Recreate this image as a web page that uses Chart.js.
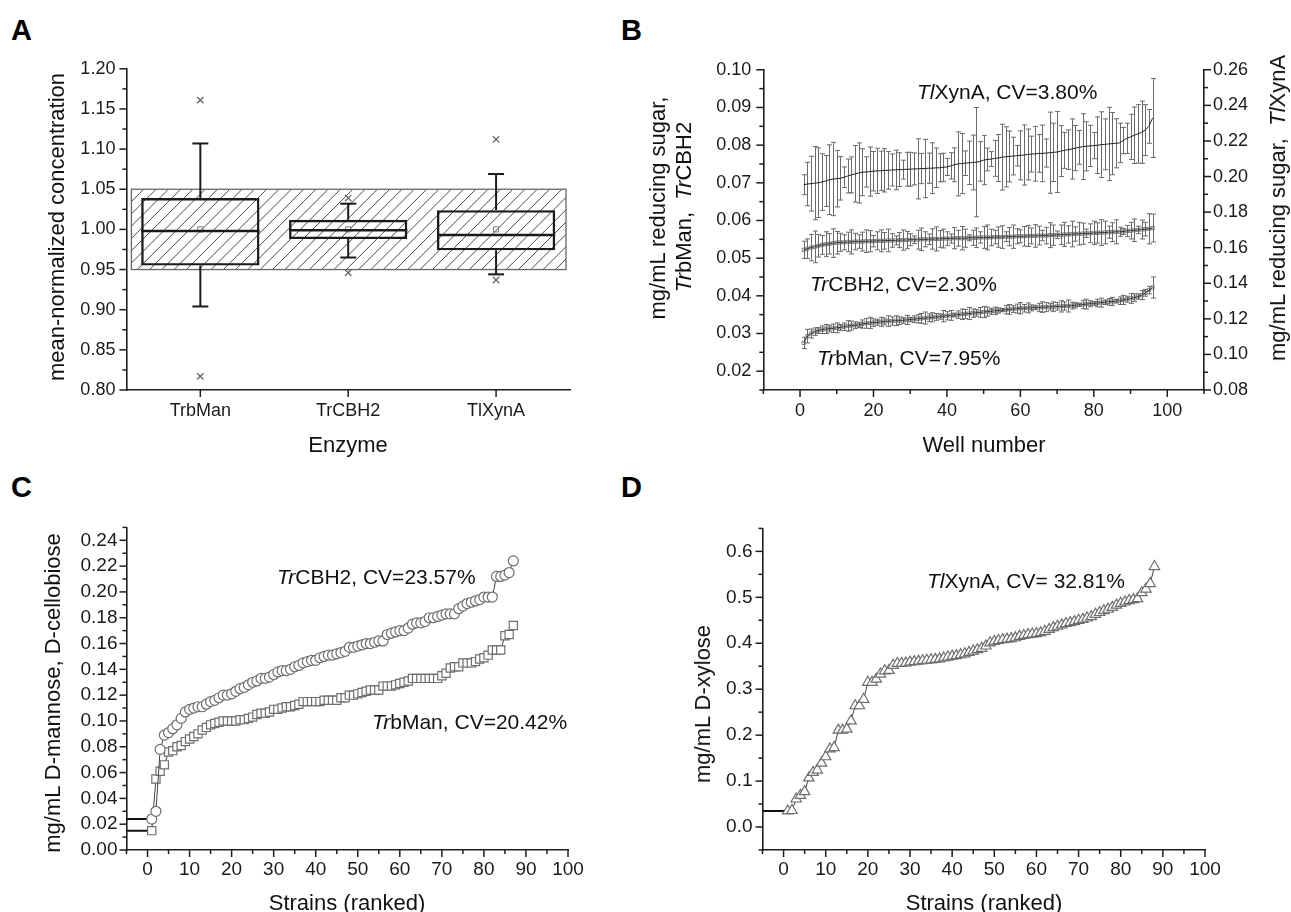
<!DOCTYPE html>
<html><head><meta charset="utf-8">
<script src="https://cdn.jsdelivr.net/npm/chart.js@4.4.1/dist/chart.umd.min.js"></script>
<style>
html,body{margin:0;padding:0;background:#fff;}
#root{position:relative;width:1291px;height:912px;overflow:hidden;background:#fff;font-family:'Liberation Sans',Arial,sans-serif;color:#111;}
canvas{position:absolute;}
.t{position:absolute;white-space:nowrap;line-height:1;}
.c{transform:translate(-50%,-50%);}
.r{transform:translate(-50%,-50%) rotate(-90deg);}
.l{transform:translate(0,-50%);}
.letter{font-weight:bold;font-size:29px;color:#000;}
.ttl{font-size:22px;}
.ann{font-size:21px;}
</style></head><body><div id="root">
<canvas id="cA" width="600" height="388" style="left:0px;top:47px"></canvas>
<canvas id="cB" width="671" height="388" style="left:620px;top:47px"></canvas>
<canvas id="cC" width="600" height="388" style="left:0px;top:507px"></canvas>
<canvas id="cD" width="620" height="388" style="left:620px;top:507px"></canvas>

<div class="t letter" style="left:11px;top:16px">A</div>
<div class="t letter" style="left:621px;top:16px">B</div>
<div class="t letter" style="left:11px;top:473px">C</div>
<div class="t letter" style="left:621px;top:473px">D</div>

<div class="t ttl r" style="left:57px;top:227px">mean-normalized concentration</div>
<div class="t ttl c" style="left:348px;top:445px">Enzyme</div>
<div class="t ttl r" style="left:658px;top:208px">mg/mL reducing sugar,</div>
<div class="t ttl r" style="left:684px;top:207px"><i>Tr</i>bMan,&nbsp; <i>Tr</i>CBH2</div>
<div class="t ttl r" style="left:1278px;top:208px">mg/mL reducing sugar,&nbsp; <i>Tl</i>XynA</div>
<div class="t ttl c" style="left:984px;top:445px">Well number</div>
<div class="t ttl r" style="left:53px;top:693px">mg/mL D-mannose, D-cellobiose</div>
<div class="t ttl c" style="left:347px;top:903px">Strains (ranked)</div>
<div class="t ttl r" style="left:703px;top:704px">mg/mL D-xylose</div>
<div class="t ttl c" style="left:984px;top:903px">Strains (ranked)</div>

<div class="t ann l" style="left:917px;top:91px"><i>Tl</i>XynA, CV=3.80%</div>
<div class="t ann l" style="left:810px;top:283px"><i>Tr</i>CBH2, CV=2.30%</div>
<div class="t ann l" style="left:817px;top:357px"><i>Tr</i>bMan, CV=7.95%</div>
<div class="t ann l" style="left:277px;top:576px"><i>Tr</i>CBH2, CV=23.57%</div>
<div class="t ann l" style="left:372px;top:721px"><i>Tr</i>bMan, CV=20.42%</div>
<div class="t ann l" style="left:927px;top:580px"><i>Tl</i>XynA, CV= 32.81%</div>
</div>
<script>
// ---------------- DATA ----------------
// Panel A (box chart)
const enzymes = ['TrbMan', 'TrCBH2', 'TlXynA'];
const boxQ1 = [0.955, 0.988, 0.974];
const boxQ3 = [1.039, 1.012, 1.024];
const boxMedian = [0.998, 0.999, 0.993];
const whiskerLow = [0.904, 0.965, 0.944];
const whiskerHigh = [1.107, 1.032, 1.069];
const boxMean = [1.000, 1.000, 1.000];
const outlierHigh = [1.161, 1.039, 1.112];
const outlierLow = [0.817, 0.946, 0.937];
const bandRange = [0.95, 1.05];
const aYTicks = [0.80, 0.85, 0.90, 0.95, 1.00, 1.05, 1.10, 1.15, 1.20];
const aYMinor = [0.825, 0.875, 0.925, 0.975, 1.025, 1.075, 1.125, 1.175];

// Panel B (wells, means and SD)
const wells = [1,2,3,4,5,6,7,8,9,10,11,12,13,14,15,16,17,18,19,20,21,22,23,24,25,26,27,28,29,30,31,32,33,34,35,36,37,38,39,40,41,42,43,44,45,46,47,48,49,50,51,52,53,54,55,56,57,58,59,60,61,62,63,64,65,66,67,68,69,70,71,72,73,74,75,76,77,78,79,80,81,82,83,84,85,86,87,88,89,90,91,92,93,94,95,96];
const xynAMean = [0.1954,0.1958,0.1960,0.1963,0.1965,0.1969,0.1975,0.1982,0.1986,0.1988,
  0.1990,0.1996,0.2003,0.2009,0.2015,0.2020,0.2024,0.2026,0.2028,0.2030,
  0.2032,0.2032,0.2035,0.2035,0.2037,0.2037,0.2039,0.2039,0.2041,0.2041,
  0.2043,0.2043,0.2045,0.2045,0.2047,0.2047,0.2049,0.2049,0.2052,0.2054,
  0.2060,0.2066,0.2071,0.2073,0.2075,0.2077,0.2079,0.2081,0.2085,0.2092,
  0.2096,0.2098,0.2102,0.2104,0.2109,0.2111,0.2113,0.2115,0.2117,0.2119,
  0.2121,0.2124,0.2126,0.2128,0.2130,0.2130,0.2132,0.2134,0.2136,0.2138,
  0.2143,0.2147,0.2151,0.2155,0.2160,0.2164,0.2168,0.2170,0.2172,0.2174,
  0.2176,0.2179,0.2181,0.2183,0.2185,0.2187,0.2189,0.2202,0.2215,0.2223,
  0.2232,0.2240,0.2249,0.2261,0.2282,0.2329];
const xynAErr = [0.0056,0.0122,0.0154,0.0206,0.0196,0.0159,0.0143,0.0196,0.0206,0.0159,
  0.0122,0.0058,0.0095,0.0101,0.0159,0.0169,0.0132,0.0085,0.0138,0.0111,
  0.0127,0.0111,0.0122,0.0106,0.0090,0.0111,0.0095,0.0053,0.0095,0.0095,
  0.0090,0.0169,0.0085,0.0164,0.0085,0.0143,0.0111,0.0079,0.0079,0.0048,
  0.0074,0.0095,0.0180,0.0169,0.0069,0.0122,0.0154,0.0307,0.0111,0.0138,
  0.0064,0.0042,0.0101,0.0132,0.0185,0.0169,0.0143,0.0106,0.0058,0.0138,
  0.0169,0.0143,0.0101,0.0154,0.0106,0.0159,0.0079,0.0228,0.0164,0.0228,
  0.0143,0.0101,0.0111,0.0169,0.0127,0.0095,0.0185,0.0138,0.0116,0.0074,
  0.0159,0.0185,0.0143,0.0206,0.0175,0.0138,0.0111,0.0074,0.0085,0.0127,
  0.0159,0.0164,0.0175,0.0143,0.0095,0.0222];
const cbh2Mean = [0.0522,0.0525,0.0528,0.0530,0.0533,0.0535,0.0537,0.0538,0.0540,0.0541,
  0.0542,0.0542,0.0543,0.0543,0.0544,0.0544,0.0544,0.0545,0.0545,0.0545,
  0.0546,0.0546,0.0546,0.0547,0.0547,0.0547,0.0548,0.0548,0.0548,0.0549,
  0.0549,0.0549,0.0550,0.0550,0.0550,0.0551,0.0551,0.0551,0.0552,0.0552,
  0.0552,0.0553,0.0553,0.0553,0.0553,0.0554,0.0554,0.0554,0.0555,0.0555,
  0.0555,0.0555,0.0556,0.0556,0.0556,0.0557,0.0557,0.0557,0.0558,0.0558,
  0.0558,0.0559,0.0559,0.0559,0.0560,0.0560,0.0560,0.0561,0.0561,0.0562,
  0.0562,0.0563,0.0563,0.0564,0.0564,0.0565,0.0565,0.0566,0.0566,0.0567,
  0.0567,0.0568,0.0568,0.0569,0.0569,0.0570,0.0570,0.0571,0.0572,0.0573,
  0.0574,0.0575,0.0576,0.0577,0.0578,0.0580];
const cbh2Err = [0.0023,0.0026,0.0035,0.0042,0.0030,0.0025,0.0033,0.0027,0.0038,0.0030,
  0.0024,0.0020,0.0026,0.0032,0.0022,0.0018,0.0025,0.0030,0.0028,0.0015,
  0.0024,0.0029,0.0022,0.0030,0.0018,0.0012,0.0020,0.0027,0.0023,0.0016,
  0.0010,0.0025,0.0030,0.0020,0.0014,0.0027,0.0032,0.0022,0.0025,0.0018,
  0.0012,0.0028,0.0021,0.0031,0.0024,0.0008,0.0020,0.0026,0.0015,0.0029,
  0.0033,0.0022,0.0018,0.0027,0.0030,0.0013,0.0024,0.0031,0.0020,0.0017,
  0.0026,0.0028,0.0021,0.0030,0.0025,0.0014,0.0022,0.0033,0.0027,0.0010,
  0.0026,0.0032,0.0023,0.0034,0.0019,0.0030,0.0028,0.0011,0.0025,0.0031,
  0.0027,0.0034,0.0030,0.0016,0.0025,0.0032,0.0012,0.0008,0.0015,0.0022,
  0.0030,0.0010,0.0025,0.0018,0.0040,0.0037];
const bManMean = [0.0275,0.0293,0.0300,0.0305,0.0308,0.0310,0.0312,0.0313,0.0314,0.0315,
  0.0316,0.0318,0.0320,0.0321,0.0322,0.0323,0.0325,0.0327,0.0328,0.0329,
  0.0330,0.0331,0.0332,0.0333,0.0333,0.0334,0.0334,0.0335,0.0336,0.0337,
  0.0338,0.0339,0.0340,0.0341,0.0342,0.0343,0.0344,0.0345,0.0346,0.0347,
  0.0348,0.0349,0.0350,0.0351,0.0352,0.0353,0.0354,0.0355,0.0356,0.0357,
  0.0358,0.0359,0.0360,0.0361,0.0362,0.0363,0.0364,0.0365,0.0366,0.0367,
  0.0367,0.0368,0.0368,0.0369,0.0369,0.0370,0.0370,0.0371,0.0371,0.0372,
  0.0372,0.0373,0.0373,0.0374,0.0375,0.0376,0.0377,0.0378,0.0379,0.0380,
  0.0381,0.0382,0.0383,0.0384,0.0385,0.0386,0.0387,0.0389,0.0391,0.0393,
  0.0395,0.0398,0.0402,0.0408,0.0415,0.0422];
const bManErr = [0.0015,0.0018,0.0012,0.0010,0.0008,0.0010,0.0012,0.0009,0.0011,0.0013,
  0.0008,0.0010,0.0014,0.0012,0.0009,0.0007,0.0011,0.0013,0.0015,0.0010,
  0.0008,0.0012,0.0009,0.0014,0.0011,0.0013,0.0010,0.0008,0.0012,0.0006,
  0.0009,0.0011,0.0013,0.0016,0.0010,0.0012,0.0009,0.0007,0.0015,0.0011,
  0.0013,0.0005,0.0010,0.0014,0.0012,0.0016,0.0011,0.0009,0.0013,0.0015,
  0.0012,0.0008,0.0010,0.0007,0.0004,0.0011,0.0013,0.0009,0.0012,0.0015,
  0.0010,0.0013,0.0008,0.0006,0.0011,0.0014,0.0012,0.0009,0.0013,0.0010,
  0.0015,0.0011,0.0016,0.0009,0.0007,0.0004,0.0011,0.0013,0.0008,0.0005,
  0.0010,0.0012,0.0006,0.0009,0.0011,0.0005,0.0010,0.0012,0.0008,0.0013,
  0.0010,0.0007,0.0012,0.0009,0.0010,0.0028];
const bXTicks = [0, 20, 40, 60, 80, 100];
const bXMinor = [-10, 10, 30, 50, 70, 90, 110];
const bYTicks = [0.02, 0.03, 0.04, 0.05, 0.06, 0.07, 0.08, 0.09, 0.10];
const bYMinor = [0.015, 0.025, 0.035, 0.045, 0.055, 0.065, 0.075, 0.085, 0.095];
const bY2Ticks = [0.08, 0.10, 0.12, 0.14, 0.16, 0.18, 0.20, 0.22, 0.24, 0.26];
const bY2Minor = [0.09, 0.11, 0.13, 0.15, 0.17, 0.19, 0.21, 0.23, 0.25];

// Panel C (ranked strains)
const strainsC = [1,2,3,4,5,6,7,8,9,10,11,12,13,14,15,16,17,18,19,20,21,22,23,24,25,26,27,28,29,30,31,32,33,34,35,36,37,38,39,40,41,42,43,44,45,46,47,48,49,50,51,52,53,54,55,56,57,58,59,60,61,62,63,64,65,66,67,68,69,70,71,72,73,74,75,76,77,78,79,80,81,82,83,84,85,86,87];
const cCbh2 = [0.024,0.030,0.078,0.089,0.091,0.094,0.097,0.102,0.107,0.109,
  0.110,0.111,0.111,0.113,0.115,0.116,0.118,0.120,0.120,0.121,
  0.123,0.125,0.126,0.128,0.130,0.131,0.133,0.133,0.134,0.136,
  0.138,0.139,0.139,0.140,0.142,0.143,0.145,0.146,0.147,0.147,
  0.149,0.150,0.151,0.151,0.152,0.153,0.154,0.157,0.157,0.158,
  0.159,0.160,0.160,0.161,0.162,0.162,0.167,0.168,0.169,0.170,
  0.170,0.172,0.175,0.176,0.176,0.177,0.180,0.180,0.181,0.182,
  0.183,0.183,0.183,0.187,0.189,0.191,0.192,0.193,0.194,0.196,
  0.196,0.196,0.212,0.212,0.213,0.215,0.224];
const cBMan = [0.015,0.055,0.061,0.066,0.076,0.077,0.080,0.081,0.084,0.086,
  0.088,0.090,0.093,0.095,0.097,0.098,0.099,0.100,0.100,0.100,
  0.100,0.101,0.101,0.102,0.103,0.105,0.106,0.106,0.107,0.109,
  0.109,0.110,0.111,0.111,0.112,0.113,0.115,0.115,0.115,0.115,
  0.115,0.116,0.116,0.116,0.116,0.118,0.118,0.120,0.120,0.121,
  0.122,0.123,0.124,0.124,0.124,0.127,0.127,0.127,0.128,0.129,
  0.130,0.131,0.133,0.133,0.133,0.133,0.133,0.133,0.133,0.135,
  0.137,0.141,0.142,0.142,0.145,0.145,0.145,0.146,0.148,0.149,
  0.151,0.155,0.155,0.155,0.166,0.167,0.174];
const cXTicks = [0,10,20,30,40,50,60,70,80,90,100];
const cXMinor = [-5,5,15,25,35,45,55,65,75,85,95];
const cYTicks = [0.00,0.02,0.04,0.06,0.08,0.10,0.12,0.14,0.16,0.18,0.20,0.22,0.24];
const cYMinor = [0.01,0.03,0.05,0.07,0.09,0.11,0.13,0.15,0.17,0.19,0.21,0.23,0.25];

// Panel D (ranked strains)
const strainsD = [1,2,3,4,5,6,7,8,9,10,11,12,13,14,15,16,17,18,19,20,21,22,23,24,25,26,27,28,29,30,31,32,33,34,35,36,37,38,39,40,41,42,43,44,45,46,47,48,49,50,51,52,53,54,55,56,57,58,59,60,61,62,63,64,65,66,67,68,69,70,71,72,73,74,75,76,77,78,79,80,81,82,83,84,85,86,87,88];
const dXylose = [0.035,0.036,0.061,0.069,0.077,0.107,0.119,0.124,0.139,0.153,
  0.170,0.173,0.211,0.211,0.213,0.231,0.264,0.264,0.278,0.315,
  0.315,0.322,0.333,0.340,0.341,0.352,0.356,0.356,0.357,0.359,
  0.360,0.361,0.362,0.363,0.364,0.365,0.366,0.368,0.370,0.372,
  0.373,0.375,0.377,0.380,0.383,0.386,0.389,0.394,0.401,0.404,
  0.406,0.408,0.409,0.410,0.412,0.415,0.417,0.419,0.420,0.421,
  0.423,0.426,0.430,0.434,0.437,0.440,0.443,0.445,0.447,0.450,
  0.452,0.455,0.458,0.463,0.467,0.471,0.474,0.478,0.483,0.487,
  0.490,0.493,0.495,0.497,0.510,0.518,0.530,0.567];
const dXTicks = [0,10,20,30,40,50,60,70,80,90,100];
const dXMinor = [-5,5,15,25,35,45,55,65,75,85,95];
const dYTicks = [0.0,0.1,0.2,0.3,0.4,0.5,0.6];
const dYMinor = [-0.05,0.05,0.15,0.25,0.35,0.45,0.55,0.65];

// ---------------- STYLE / HELPERS ----------------
Chart.defaults.font.family = "'Liberation Sans', Arial, sans-serif";
Chart.defaults.font.size = 18;
Chart.defaults.color = '#1a1a1a';
Chart.defaults.animation = false;
Chart.defaults.events = [];
Chart.defaults.plugins.legend.display = false;
Chart.defaults.plugins.tooltip.enabled = false;

const AX = '#1e1e1e';
function setTicks(vals) { return s => { s.ticks = vals.map(v => ({ value: v })); }; }
function linAxis(o) {
  return {
    type: 'linear', position: o.pos, min: o.min, max: o.max,
    grid: { display: false, drawTicks: false },
    border: { display: true, color: AX, width: 1.6 },
    afterBuildTicks: setTicks(o.ticks),
    afterFit: o.size == null ? undefined : (o.horizontal ? (s => { s.height = o.size; }) : (s => { s.width = o.size; })),
    ticks: { padding: o.pad, autoSkip: false, maxRotation: 0, font: { size: o.fs || 18 }, callback: v => v.toFixed(o.dec) }
  };
}
function tickMarks(axes) {
  return {
    id: 'tickMarks',
    afterDraw(chart) {
      const ctx = chart.ctx;
      ctx.save(); ctx.strokeStyle = AX; ctx.lineWidth = 1.5;
      axes.forEach(a => {
        const s = chart.scales[a.id];
        const draw = (vals, len) => vals.forEach(v => {
          const p = s.getPixelForValue(v);
          ctx.beginPath();
          if (a.side === 'left') { ctx.moveTo(s.right, p); ctx.lineTo(s.right - len, p); }
          else if (a.side === 'right') { ctx.moveTo(s.left, p); ctx.lineTo(s.left + len, p); }
          else { ctx.moveTo(p, s.top); ctx.lineTo(p, s.top + len); }
          ctx.stroke();
        });
        draw(a.major, 7); draw(a.minor || [], 4);
      });
      ctx.restore();
    }
  };
}
function seg(ctx, x1, y1, x2, y2) { ctx.beginPath(); ctx.moveTo(x1, y1); ctx.lineTo(x2, y2); ctx.stroke(); }

// ---------------- PANEL A ----------------
const boxExtras = {
  id: 'boxExtras',
  beforeDatasetsDraw(chart) {
    const { ctx, chartArea: ca } = chart; const y = chart.scales.y;
    const top = y.getPixelForValue(bandRange[1]), bot = y.getPixelForValue(bandRange[0]);
    const left = ca.left + 5, right = ca.right - 4, h = bot - top;
    ctx.save();
    ctx.beginPath(); ctx.rect(left, top, right - left, h); ctx.clip();
    ctx.strokeStyle = '#4a4a4a'; ctx.lineWidth = 1;
    for (let x0 = left - h; x0 < right + 2; x0 += 12.3) seg(ctx, x0, bot, x0 + h, top);
    ctx.restore();
    ctx.save(); ctx.strokeStyle = '#666'; ctx.lineWidth = 1.3; ctx.strokeRect(left, top, right - left, h); ctx.restore();
  },
  afterDatasetsDraw(chart) {
    const ctx = chart.ctx, y = chart.scales.y, meta = chart.getDatasetMeta(0);
    ctx.save(); ctx.strokeStyle = '#1a1a1a';
    meta.data.forEach((bar, i) => {
      const half = bar.width / 2, x = bar.x;
      ctx.lineWidth = 2.4;
      seg(ctx, x - half, y.getPixelForValue(boxMedian[i]), x + half, y.getPixelForValue(boxMedian[i]));
      ctx.lineWidth = 2;
      const yq3 = y.getPixelForValue(boxQ3[i]), yq1 = y.getPixelForValue(boxQ1[i]);
      const yhi = y.getPixelForValue(whiskerHigh[i]), ylo = y.getPixelForValue(whiskerLow[i]);
      seg(ctx, x, yq3, x, yhi); seg(ctx, x, yq1, x, ylo);
      seg(ctx, x - 8, yhi, x + 8, yhi); seg(ctx, x - 8, ylo, x + 8, ylo);
    });
    ctx.restore();
  }
};
new Chart(document.getElementById('cA'), {
  type: 'bar',
  data: {
    labels: enzymes,
    datasets: [
      { label: 'box', data: boxQ1.map((q, i) => [q, boxQ3[i]]), backgroundColor: 'rgba(0,0,0,0)', borderColor: '#1a1a1a', borderWidth: 2.4, borderSkipped: false, barPercentage: 0.8, categoryPercentage: 1.0, order: 5 },
      { type: 'line', label: 'mean', data: boxMean, showLine: false, pointStyle: 'rect', pointRadius: 3.6, pointBorderColor: '#7a7a7a', pointBackgroundColor: 'rgba(0,0,0,0)', pointBorderWidth: 1, order: 1 },
      { type: 'line', label: 'max', data: outlierHigh, showLine: false, pointStyle: 'crossRot', pointRadius: 4.5, pointBorderColor: '#666', pointBorderWidth: 1.3, order: 1 },
      { type: 'line', label: 'min', data: outlierLow, showLine: false, pointStyle: 'crossRot', pointRadius: 4.5, pointBorderColor: '#666', pointBorderWidth: 1.3, order: 1 }
    ]
  },
  options: {
    responsive: false,
    layout: { padding: { top: 20, right: 30, left: 0, bottom: 0 } },
    scales: {
      x: { type: 'category', grid: { display: false, drawTicks: false }, border: { display: true, color: AX, width: 1.6 },
           afterFit: s => { s.height = 45; }, ticks: { padding: 10, maxRotation: 0, autoSkip: false } },
      y: linAxis({ pos: 'left', min: 0.8, max: 1.2, ticks: aYTicks, dec: 2, pad: 11, size: 126.4 })
    },
    clip: false
  },
  plugins: [boxExtras, tickMarks([{ id: 'y', side: 'left', major: aYTicks, minor: aYMinor }, { id: 'x', side: 'bottom', major: [0, 1, 2] }])]
});

// ---------------- PANEL B ----------------
const errorBars = {
  id: 'errorBars',
  beforeDatasetsDraw(chart) {
    const ctx = chart.ctx;
    ctx.save(); ctx.strokeStyle = '#6a6a6a'; ctx.lineWidth = 1;
    chart.data.datasets.forEach((ds, i) => {
      if (!ds.errors) return;
      const meta = chart.getDatasetMeta(i), ys = chart.scales[ds.yAxisID];
      meta.data.forEach((pt, j) => {
        const v = ds.data[j].y, e = ds.errors[j];
        const x = Math.round(pt.x) + 0.5;
        const yt = ys.getPixelForValue(v + e), yb = ys.getPixelForValue(v - e);
        ctx.beginPath();
        ctx.moveTo(x, yt); ctx.lineTo(x, yb);
        ctx.moveTo(x - 2.5, yt); ctx.lineTo(x + 2.5, yt);
        ctx.moveTo(x - 2.5, yb); ctx.lineTo(x + 2.5, yb);
        ctx.stroke();
      });
    });
    ctx.restore();
  }
};
const wellPts = arr => wells.map((w, i) => ({ x: w, y: arr[i] }));
new Chart(document.getElementById('cB'), {
  type: 'line',
  data: {
    datasets: [
      { label: 'TlXynA', yAxisID: 'y2', data: wellPts(xynAMean), errors: xynAErr, borderColor: '#222', borderWidth: 1, pointRadius: 0 },
      { label: 'TrCBH2', yAxisID: 'y', data: wellPts(cbh2Mean), errors: cbh2Err, borderColor: '#222', borderWidth: 1, pointStyle: 'rect', pointRadius: 2.3, pointBorderColor: '#666', pointBorderWidth: 0.8, pointBackgroundColor: 'rgba(0,0,0,0)' },
      { label: 'TrbMan', yAxisID: 'y', data: wellPts(bManMean), errors: bManErr, borderColor: '#222', borderWidth: 1, pointStyle: 'rect', pointRadius: 2.3, pointBorderColor: '#666', pointBorderWidth: 0.8, pointBackgroundColor: 'rgba(0,0,0,0)' }
    ]
  },
  options: {
    responsive: false,
    layout: { padding: { top: 20, right: 0, left: 0, bottom: 0 } },
    scales: {
      x: linAxis({ pos: 'bottom', min: -10, max: 110, ticks: bXTicks, dec: 0, pad: 10, size: 45, horizontal: true }),
      y: linAxis({ pos: 'left', min: 0.015, max: 0.10, ticks: bYTicks, dec: 2, pad: 12, size: 143.3 }),
      y2: linAxis({ pos: 'right', min: 0.08, max: 0.26, ticks: bY2Ticks, dec: 2, pad: 9, size: 87 })
    }
  },
  plugins: [errorBars, tickMarks([
    { id: 'x', side: 'bottom', major: bXTicks, minor: bXMinor },
    { id: 'y', side: 'left', major: bYTicks, minor: bYMinor },
    { id: 'y2', side: 'right', major: bY2Ticks, minor: bY2Minor }])]
});

// ---------------- PANEL C ----------------
const xMinC = -5;
new Chart(document.getElementById('cC'), {
  type: 'line',
  data: {
    datasets: [
      { label: 'lead1', data: [{ x: xMinC, y: cCbh2[0] }, { x: strainsC[0], y: cCbh2[0] }], borderColor: '#111', borderWidth: 2, pointRadius: 0, order: 10 },
      { label: 'lead2', data: [{ x: xMinC, y: cBMan[0] }, { x: strainsC[0], y: cBMan[0] }], borderColor: '#111', borderWidth: 2, pointRadius: 0, order: 10 },
      { label: 'TrCBH2', data: strainsC.map((s, i) => ({ x: s, y: cCbh2[i] })), borderColor: '#444', borderWidth: 1, pointStyle: 'circle', pointRadius: 5, pointBorderColor: '#6e6e6e', pointBorderWidth: 1.2, pointBackgroundColor: '#fff', order: 1 },
      { label: 'TrbMan', data: strainsC.map((s, i) => ({ x: s, y: cBMan[i] })), borderColor: '#444', borderWidth: 1, pointStyle: 'rect', pointRadius: 5.8, pointBorderColor: '#6e6e6e', pointBorderWidth: 1.2, pointBackgroundColor: '#fff', order: 1 }
    ]
  },
  options: {
    responsive: false,
    layout: { padding: { top: 20, right: 32, left: 0, bottom: 0 } },
    scales: {
      x: linAxis({ pos: 'bottom', min: -5, max: 100, ticks: cXTicks, dec: 0, pad: 8, size: 45, horizontal: true, fs: 19 }),
      y: linAxis({ pos: 'left', min: 0, max: 0.25, ticks: cYTicks, dec: 2, pad: 9, size: 126.5, fs: 19 })
    }
  },
  plugins: [tickMarks([{ id: 'x', side: 'bottom', major: cXTicks, minor: cXMinor }, { id: 'y', side: 'left', major: cYTicks, minor: cYMinor }])]
});

// ---------------- PANEL D ----------------
const xMinD = -5;
new Chart(document.getElementById('cD'), {
  type: 'line',
  data: {
    datasets: [
      { label: 'lead', data: [{ x: xMinD, y: dXylose[0] }, { x: strainsD[0], y: dXylose[0] }], borderColor: '#111', borderWidth: 2, pointRadius: 0, order: 10 },
      { label: 'TlXynA', data: strainsD.map((s, i) => ({ x: s, y: dXylose[i] })), borderColor: '#444', borderWidth: 1, pointStyle: 'triangle', pointRadius: 6, pointBorderColor: '#6e6e6e', pointBorderWidth: 1.2, pointBackgroundColor: '#fff', order: 1 }
    ]
  },
  options: {
    responsive: false,
    layout: { padding: { top: 20, right: 35, left: 0, bottom: 0 } },
    scales: {
      x: linAxis({ pos: 'bottom', min: -5, max: 100, ticks: dXTicks, dec: 0, pad: 8, size: 45, horizontal: true, fs: 19 }),
      y: linAxis({ pos: 'left', min: -0.05, max: 0.65, ticks: dYTicks, dec: 1, pad: 10, size: 142.5, fs: 19 })
    }
  },
  plugins: [tickMarks([{ id: 'x', side: 'bottom', major: dXTicks, minor: dXMinor }, { id: 'y', side: 'left', major: dYTicks, minor: dYMinor }])]
});
</script>
</body></html>
